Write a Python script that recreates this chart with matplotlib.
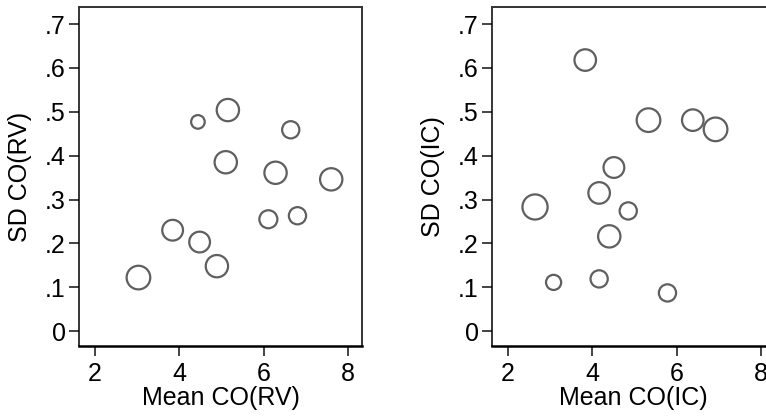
import numpy as np
import matplotlib.pyplot as plt

plt.rcParams['font.family'] = ['Liberation Sans', 'DejaVu Sans']

# left panel: right ventricle
rv_mean = [3.03, 3.84, 4.48, 4.89, 4.44, 5.15, 5.10, 6.28, 6.64, 6.11, 6.80, 7.60]
rv_sd = [0.122, 0.230, 0.203, 0.148, 0.477, 0.504, 0.385, 0.361, 0.459, 0.255, 0.263, 0.346]
rv_weight = [10.0, 7.7, 7.7, 8.9, 3.3, 8.9, 8.9, 8.9, 5.3, 5.8, 5.3, 8.9]

# right panel: inferior cava
ic_mean = [3.83, 5.33, 6.38, 6.92, 4.51, 4.16, 2.64, 4.85, 4.40, 3.08, 4.16, 5.78]
ic_sd = [0.618, 0.481, 0.481, 0.460, 0.373, 0.315, 0.283, 0.274, 0.216, 0.111, 0.119, 0.087]
ic_weight = [8.3, 10.0, 8.3, 10.0, 7.7, 8.3, 11.3, 5.3, 8.9, 4.1, 5.3, 5.3]

x_ticks = [2, 4, 6, 8]
y_ticks = [0, 0.1, 0.2, 0.3, 0.4, 0.5, 0.6, 0.7]
y_ticklabels = ['0', '.1', '.2', '.3', '.4', '.5', '.6', '.7']

fig = plt.figure(figsize=(7.66, 4.17), dpi=100)
ax1 = fig.add_axes([0.1031, 0.1703, 0.3695, 0.8129])
ax2 = fig.add_axes([0.6423, 0.1703, 0.3695, 0.8129])

panels = [(ax1, rv_mean, rv_sd, rv_weight, 'Mean CO(RV)', 'SD CO(RV)'),
          (ax2, ic_mean, ic_sd, ic_weight, 'Mean CO(IC)', 'SD CO(IC)')]

for ax, xs, ys, w, xl, yl in panels:
    ax.scatter(xs, ys, s=np.array(w) * 29, facecolors='none',
               edgecolors='#5f5f5f', linewidths=1.6, clip_on=False)
    ax.set_xlim(1.62, 8.33)
    ax.set_ylim(-0.034, 0.739)
    ax.set_xticks(x_ticks)
    ax.set_yticks(y_ticks)
    ax.set_yticklabels(y_ticklabels)
    ax.tick_params(axis='both', labelsize=18, length=7.5, width=1.1,
                   color='#111111')
    ax.tick_params(axis='x', pad=4)
    ax.tick_params(axis='y', pad=2)
    ax.set_xlabel(xl, fontsize=18, labelpad=0)
    ax.set_ylabel(yl, fontsize=18, labelpad=9)
    ax.spines['bottom'].set_linewidth(1.8)
    ax.spines['bottom'].set_color('black')
    ax.spines['left'].set_linewidth(1.1)
    ax.spines['left'].set_color('black')
    for s in ['top', 'right']:
        ax.spines[s].set_linewidth(1.4)
        ax.spines[s].set_color('#333333')

fig.savefig('out.png', dpi=100)
